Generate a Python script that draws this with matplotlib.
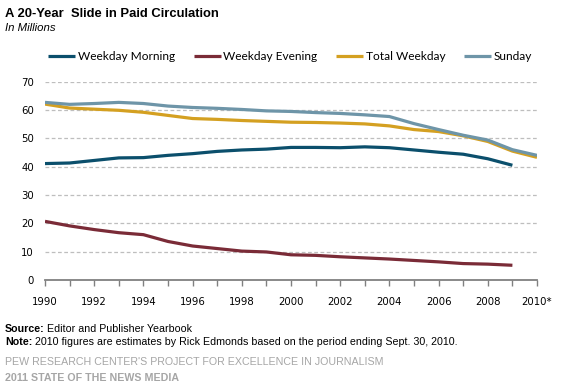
import matplotlib
matplotlib.use("Agg")
import matplotlib.pyplot as plt

years = list(range(1990, 2011))
morning = [41.1, 41.3, 42.2, 43.1, 43.2, 44.0, 44.6, 45.4, 45.9, 46.2, 46.8,
           46.8, 46.7, 47.0, 46.7, 45.9, 45.1, 44.4, 42.8, 40.5]
evening = [20.7, 19.1, 17.8, 16.7, 16.0, 13.6, 12.0, 11.1, 10.2, 9.9, 8.9,
           8.7, 8.2, 7.8, 7.4, 6.9, 6.4, 5.8, 5.6, 5.2]
total = [62.1, 60.7, 60.3, 59.9, 59.2, 58.1, 57.0, 56.7, 56.3, 56.0, 55.7,
         55.6, 55.4, 55.1, 54.4, 53.1, 52.4, 50.9, 48.9, 45.5, 43.3]
sunday = [62.7, 62.0, 62.3, 62.7, 62.3, 61.4, 60.9, 60.6, 60.2, 59.7, 59.5,
          59.1, 58.8, 58.3, 57.7, 55.2, 53.1, 51.1, 49.4, 46.0, 44.0]
series_names = ["Weekday Morning", "Weekday Evening", "Total Weekday", "Sunday"]
colors = ["#0B4F6C", "#7A2B37", "#D4A021", "#6E95A8"]
xtick_years = list(range(1990, 2011, 2))
xtick_labels = [str(y) for y in range(1990, 2010, 2)] + ["2010*"]
yticks = list(range(0, 71, 10))

W, H = 573, 387
fig = plt.figure(figsize=(W / 100, H / 100), dpi=100)
ax = fig.add_axes([45 / W, 1 - 280 / H, (537 - 45) / W, (280 - 81.7) / H])

data = [morning, evening, total, sunday]
for name, vals, c in zip(series_names, data, colors):
    ax.plot(years[:len(vals)], vals, color=c, lw=2.3, label=name,
            solid_capstyle="butt", zorder=3)

ax.set_xlim(1990, 2010)
ax.set_ylim(0, 70)
ax.set_yticks(yticks)
ax.set_yticklabels([str(v) for v in yticks], fontsize=7.3, family="DejaVu Sans", color="#000000")
for v in yticks[1:]:
    ax.axhline(v, color="#BEBEBE", lw=0.9, ls=(0, (3, 2)), zorder=1)
ax.set_xticks(years)
label_map = dict(zip(xtick_years, xtick_labels))
ax.set_xticklabels([label_map.get(y, "") for y in years], fontsize=7.3, family="DejaVu Sans")
for s in ["top", "right", "left"]:
    ax.spines[s].set_visible(False)
ax.spines["bottom"].set_color("#808080")
ax.spines["bottom"].set_linewidth(1.3)
ax.spines["bottom"].set_zorder(4)
ax.tick_params(axis="x", direction="out", length=4, width=1, color="#808080", pad=8)
ax.tick_params(axis="y", length=0, pad=8)

leg = ax.legend(loc="center left", bbox_to_anchor=(48 / W, 1 - 56.5 / H),
                bbox_transform=fig.transFigure, ncol=4, frameon=False,
                prop={"family": "Lato", "size": 8.6}, handlelength=2.3,
                handletextpad=0.2, columnspacing=1.55, borderpad=0, borderaxespad=0)

fig.text(5 / W, 1 - 14 / H, "A 20-Year  Slide in Paid Circulation", family="Liberation Sans",
         fontweight="bold", fontsize=9.4, va="center", ha="left")
fig.text(5 / W, 1 - 28 / H, "In Millions", family="Liberation Sans", style="italic",
         fontsize=8.2, va="center", ha="left")

fig.canvas.draw()
renderer = fig.canvas.get_renderer()

NOTE_SIZE = 7.7


def labeled_line(y_px, bold_part, rest, size=NOTE_SIZE):
    t = fig.text(5 / W, 1 - y_px / H, bold_part, family="Liberation Sans", fontsize=size,
                 fontweight="bold", va="center", ha="left")
    bb = t.get_window_extent(renderer=renderer)
    fig.text((bb.x1 + 2.5) / W, 1 - y_px / H, rest, family="Liberation Sans", fontsize=size,
             va="center", ha="left")


labeled_line(329, "Source:", "Editor and Publisher Yearbook")
labeled_line(342, "Note:", "2010 figures are estimates by Rick Edmonds based on the period ending Sept. 30, 2010.")
fig.text(5 / W, 1 - 362 / H, "PEW RESEARCH CENTER'S PROJECT FOR EXCELLENCE IN JOURNALISM",
         family="Liberation Sans", fontsize=NOTE_SIZE, va="center", ha="left", color="#A6A6A6")
fig.text(5 / W, 1 - 378 / H, "2011 STATE OF THE NEWS MEDIA",
         family="Liberation Sans", fontsize=NOTE_SIZE, fontweight="bold", va="center", ha="left",
         color="#A6A6A6")

fig.savefig("out.png", dpi=100)
